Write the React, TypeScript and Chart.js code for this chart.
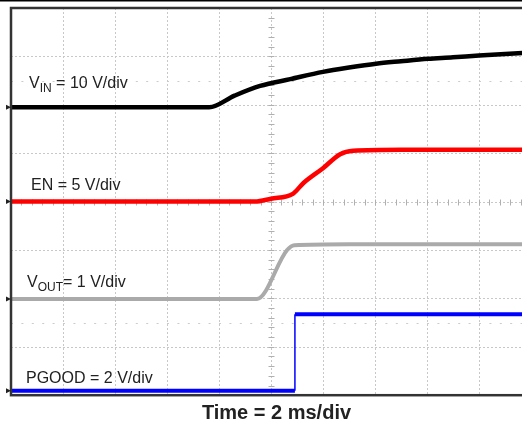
import React, { useEffect, useRef } from "react";
import { Chart, registerables } from "chart.js";

Chart.register(...registerables);

// Time axis in divisions (2 ms/div), vertical axis in screen divisions (0 = bottom)
const vinX = [0, 3.81, 4.3, 4.79, 5.37, 6.0, 6.5, 7.02, 7.5, 8.02, 8.5, 9.0, 10];
const vinY = [5.95, 5.95, 6.19, 6.39, 6.53, 6.68, 6.77, 6.85, 6.9, 6.95, 6.98, 7.02, 7.08];

const enX = [0, 4.69, 5.0, 5.42, 5.62, 6.0, 6.33, 6.58, 7.5, 10];
const enY = [4.0, 4.0, 4.06, 4.16, 4.38, 4.69, 4.98, 5.05, 5.07, 5.07];

const voutX = [0, 4.73, 5.31, 5.45, 6.5, 10];
const voutY = [1.99, 1.99, 3.0, 3.1, 3.12, 3.12];

const pgoodX = [0, 5.46, 5.46, 10];
const pgoodY = [0.09, 0.09, 1.67, 1.67];

const xGridTicks = [1, 2, 3, 4, 5, 6, 7, 8, 9];
const yGridTicks = [1, 2, 3, 4, 5, 6, 7];
const sparseRows = [6.5, 1.5];

const channelNames = ["V", "EN", "V", "PGOOD"];
const channelSubs = ["IN", "", "OUT", ""];
const channelScales = [" = 10 V/div", " = 5 V/div", "= 1 V/div", " = 2 V/div"];
const titleText = "Time = 2 ms/div";

const colors = ["#000000", "#ff0000", "#aaaaaa", "#0000ff"];

const toPts = (xs: number[], ys: number[]) => xs.map((x, i) => ({ x, y: ys[i] }));

const scopePlugin = {
  id: "scope",
  beforeDatasetsDraw(chart: any) {
    const { ctx, chartArea: a, scales } = chart;
    const x = scales.x, y = scales.y;
    ctx.save();
    ctx.strokeStyle = "#c8c8c8";
    ctx.lineWidth = 1;
    ctx.setLineDash([2, 2]);
    for (const v of xGridTicks) {
      const px = Math.round(x.getPixelForValue(v)) + 0.5;
      ctx.beginPath(); ctx.moveTo(px, a.top); ctx.lineTo(px, a.bottom); ctx.stroke();
    }
    for (const v of yGridTicks) {
      const py = Math.round(y.getPixelForValue(v)) + 0.5;
      ctx.beginPath(); ctx.moveTo(a.left, py); ctx.lineTo(a.right, py); ctx.stroke();
    }
    ctx.strokeStyle = "#cccccc";
    ctx.setLineDash([2, 8.4]);
    for (const v of sparseRows) {
      const py = Math.round(y.getPixelForValue(v)) + 0.5;
      ctx.beginPath(); ctx.moveTo(a.left, py); ctx.lineTo(a.right, py); ctx.stroke();
    }
    ctx.setLineDash([]);
    ctx.strokeStyle = "#b0b0b0";
    const cx = Math.round(x.getPixelForValue(5)) + 0.5;
    const cy = Math.round(y.getPixelForValue(4)) + 0.5;
    for (let i = 0; i <= 40; i++) {
      const py = Math.round(y.getPixelForValue(i * 0.2)) + 0.5;
      ctx.beginPath(); ctx.moveTo(cx - 3, py); ctx.lineTo(cx + 3, py); ctx.stroke();
    }
    for (let i = 0; i <= 50; i++) {
      const px = Math.round(x.getPixelForValue(i * 0.2)) + 0.5;
      ctx.beginPath(); ctx.moveTo(px, cy - 3); ctx.lineTo(px, cy + 3); ctx.stroke();
    }
    ctx.restore();
  },
  afterDatasetsDraw(chart: any) {
    const { ctx, chartArea: a, scales } = chart;
    const y = scales.y;
    ctx.save();
    ctx.strokeStyle = "#333333";
    ctx.lineWidth = 2.5;
    ctx.strokeRect(a.left, a.top, a.right - a.left, a.bottom - a.top);
    ctx.fillStyle = "#000";
    ctx.fillRect(0, 0, chart.width, 1.5);
    const grounds = [vinY[0], enY[0], voutY[0], pgoodY[0]];
    ctx.fillStyle = "#222";
    for (const g of grounds) {
      const py = y.getPixelForValue(g);
      ctx.beginPath();
      ctx.moveTo(a.left - 5, py - 2.5);
      ctx.lineTo(a.left, py);
      ctx.lineTo(a.left - 5, py + 2.5);
      ctx.closePath();
      ctx.fill();
    }
    const fam = "'Liberation Sans', Arial, sans-serif";
    const lx = [29, 31, 27, 26];
    const ly = [88, 190, 287, 383];
    ctx.fillStyle = "#222";
    ctx.textBaseline = "alphabetic";
    ctx.textAlign = "left";
    for (let i = 0; i < 4; i++) {
      let px = lx[i];
      ctx.font = `16px ${fam}`;
      ctx.fillText(channelNames[i], px, ly[i]);
      px += ctx.measureText(channelNames[i]).width;
      if (channelSubs[i]) {
        ctx.font = `12px ${fam}`;
        ctx.fillText(channelSubs[i], px, ly[i] + 4);
        px += ctx.measureText(channelSubs[i]).width;
      }
      ctx.font = `16px ${fam}`;
      ctx.fillText(channelScales[i], px, ly[i]);
    }
    ctx.font = `bold 20px ${fam}`;
    ctx.textAlign = "center";
    ctx.fillStyle = "#222";
    ctx.fillText(titleText, 276.5, 419);
    ctx.restore();
  },
};

export default function App() {
  const ref = useRef<HTMLCanvasElement | null>(null);
  useEffect(() => {
    if (!ref.current) return;
    const mk = (data: { x: number; y: number }[], color: string, width: number, smooth: boolean) => ({
      data,
      borderColor: color,
      backgroundColor: color,
      borderWidth: width,
      pointRadius: 0,
      tension: smooth ? 0.4 : 0,
      cubicInterpolationMode: smooth ? ("monotone" as const) : ("default" as const),
      fill: false,
      borderJoinStyle: "round" as const,
    });
    const chart = new Chart(ref.current, {
      type: "line",
      data: {
        datasets: [
          mk(toPts(vinX, vinY), colors[0], 4.5, true),
          mk(toPts(enX, enY), colors[1], 4.5, true),
          mk(toPts(voutX, voutY), colors[2], 4, true),
          {
            ...mk(toPts(pgoodX, pgoodY), colors[3], 4, false),
            segment: {
              borderWidth: (c: any) => (c.p0.parsed.x === c.p1.parsed.x ? 1.5 : 4),
            },
          },
        ],
      },
      options: {
        animation: false,
        responsive: false,
        devicePixelRatio: 1,
        layout: { padding: { left: 11, top: 8, right: 9, bottom: 29.8 } },
        plugins: { legend: { display: false }, tooltip: { enabled: false }, title: { display: false } },
        scales: {
          x: { type: "linear", min: 0, max: 10, display: false },
          y: { type: "linear", min: 0, max: 8, display: false },
        },
      } as any,
      plugins: [scopePlugin],
    });
    return () => chart.destroy();
  }, []);
  return (
    <div style={{ position: "fixed", left: 0, top: 0, width: 522, height: 425, overflow: "hidden", background: "#fff" }}>
      <canvas ref={ref} width={540} height={425} style={{ width: 540, height: 425, display: "block" }} />
    </div>
  );
}
